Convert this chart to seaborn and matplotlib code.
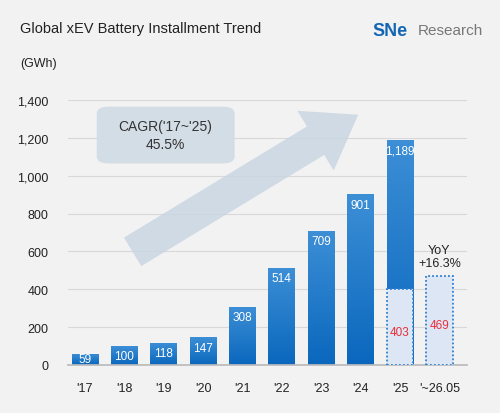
import numpy as np
import pandas as pd
import matplotlib
matplotlib.use("Agg")
import matplotlib.pyplot as plt
import seaborn as sns
from matplotlib.patches import FancyBboxPatch

years = ["'17", "'18", "'19", "'20", "'21", "'22", "'23", "'24", "'25", "'~26.05"]
totals = [59, 100, 118, 147, 308, 514, 709, 901, 1189, 0]
partial_labels = ["'25", "'~26.05"]
partial_values = [403, 469]
yticks = [0, 200, 400, 600, 800, 1000, 1200, 1400]

sns.set_theme(style="white")
plt.rcParams["font.family"] = ["Liberation Sans", "DejaVu Sans"]
bg = "#f2f2f2"

fig = plt.figure(figsize=(5, 4.14), dpi=100, facecolor=bg)
ax = fig.add_axes([0.136, 0.116, 0.798, 0.64])
ax.set_facecolor(bg)

df = pd.DataFrame({"year": years, "gwh": totals})
sns.barplot(data=df, x="year", y="gwh", color="#1a73c8", width=0.68, ax=ax,
            zorder=2, linewidth=0, edgecolor="none")

# vertical gradient on each bar
grad = np.linspace(0, 1, 256).reshape(-1, 1)
cmap = matplotlib.colors.LinearSegmentedColormap.from_list("g", ["#0a67bd", "#3d8fd6"])
for p in ax.patches:
    if p.get_height() <= 0:
        continue
    x0, w, h = p.get_x(), p.get_width(), p.get_height()
    im = ax.imshow(grad, extent=[x0, x0 + w, 0, h], origin="lower", cmap=cmap,
                   aspect="auto", zorder=2.5)
    im.set_clip_path(p)

# dotted partial-year boxes
pos = [years.index(l) for l in partial_labels]
ax.bar(pos, partial_values, width=0.68, facecolor="#dce6f5", edgecolor="#2f7fd0",
       linestyle=(0, (1, 1.2)), linewidth=1.3, zorder=3)

for i, v in enumerate(totals):
    if v > 0:
        yy = v - 55 if v > 80 else v / 2
        ax.text(i, yy, f"{v:,}", ha="center", va="center", color="white", fontsize=8.5, zorder=4)
for i, v in zip(pos, partial_values):
    ax.text(i, v / 2 - 25, f"{v}", ha="center", va="center", color="#e8303a", fontsize=8.5, zorder=4)
ax.text(pos[1], 505, "YoY\n+16.3%", ha="center", va="bottom", fontsize=9, color="#222", linespacing=1.2)

# growth arrow and CAGR box
ax.annotate("", xy=(7.0, 1330), xytext=(1.15, 590),
            arrowprops=dict(arrowstyle="simple,head_width=2.1,head_length=1.5,tail_width=1.0",
                            mutation_scale=24, color="#c8d5e1", alpha=0.8, lw=0),
            zorder=1.5)
ax.add_patch(FancyBboxPatch((0.3, 1065), 3.5, 300, boxstyle="round,pad=0,rounding_size=0.3",
                            mutation_aspect=120, facecolor="#d3dde6", edgecolor="none", zorder=1.8))
ax.text(2.05, 1215, "CAGR('17~'25)\n45.5%", ha="center", va="center", fontsize=10,
        color="#333", linespacing=1.3, zorder=2)

ax.set_ylim(0, 1400)
ax.set_xlim(-0.43, 9.7)
ax.set_yticks(yticks)
ax.set_yticklabels([f"{t:,}" for t in yticks], fontsize=9, color="#222")
ax.tick_params(axis="x", labelsize=9, colors="#222", pad=6)
ax.tick_params(axis="y", length=0, pad=14)
ax.grid(axis="y", color="#d8d8d8", lw=0.8, zorder=0)
ax.set_axisbelow(True)
for s in ["top", "right", "left"]:
    ax.spines[s].set_visible(False)
ax.spines["bottom"].set_color("#bbbbbb")
ax.set_xlabel("")
ax.set_ylabel("")

fig.text(0.04, 0.93, "Global xEV Battery Installment Trend", fontsize=10.5, color="#222", va="center")
fig.text(0.04, 0.845, "(GWh)", fontsize=9, color="#222", va="center")
fig.text(0.745, 0.925, "SNe", fontsize=13, fontweight="bold", color="#1565b5", va="center")
fig.text(0.835, 0.925, "Research", fontsize=11, color="#777", va="center")

fig.savefig("out.png", dpi=100, facecolor=bg)
